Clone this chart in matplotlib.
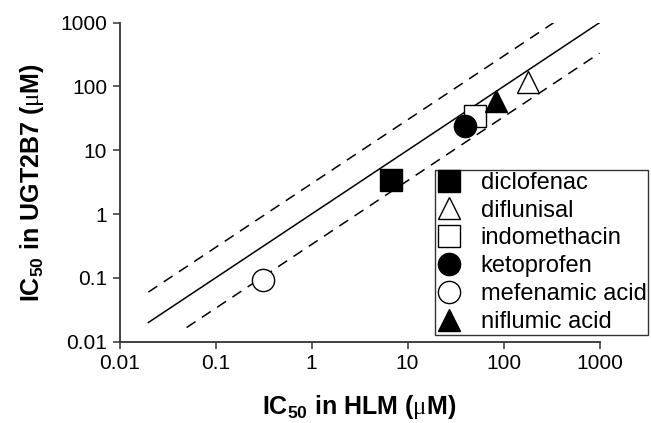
import numpy as np
import matplotlib
matplotlib.use("Agg")
import matplotlib.pyplot as plt

plt.rcParams['font.family'] = ['Liberation Sans', 'DejaVu Sans']
plt.rcParams['mathtext.fontset'] = 'custom'
plt.rcParams['mathtext.rm'] = 'Liberation Serif'
plt.rcParams['mathtext.sf'] = 'Liberation Sans:bold'

# Data
compounds = ['diclofenac', 'diflunisal', 'indomethacin', 'ketoprofen', 'mefenamic acid', 'niflumic acid']
ic50_hlm = [6.8, 180, 51, 40, 0.31, 84]
ic50_ugt2b7 = [3.4, 117, 34, 24, 0.093, 60]
markers = ['s', '^', 's', 'o', 'o', '^']
fills = ['black', 'white', 'white', 'black', 'white', 'black']

# Reference lines: unity and 3-fold
unity_x = [0.02, 1000]
upper_x = [0.02, 1000 / 3]
lower_x = [0.05, 1000]
fold = 3

fig = plt.figure(figsize=(6.51, 4.23), dpi=100)
ax = fig.add_axes([119.5 / 651, 1 - 341.7 / 423, 480 / 651, 319 / 423])

ax.plot(unity_x, unity_x, color='black', lw=1.1, zorder=1)
ax.plot(upper_x, [v * fold for v in upper_x], color='black', lw=1.1, ls=(0, (7, 5)), zorder=1)
ax.plot(lower_x, [v / fold for v in lower_x], color='black', lw=1.1, ls=(0, (7, 5)), zorder=1)

for name, x, y, m, f in zip(compounds, ic50_hlm, ic50_ugt2b7, markers, fills):
    ax.plot([x], [y], marker=m, markersize=16, markerfacecolor=f, markeredgecolor='black',
            markeredgewidth=1.0, ls='none', label=name, zorder=3)

ax.set_xscale('log')
ax.set_yscale('log')
ax.set_xlim(0.01, 1000)
ax.set_ylim(0.01, 1000)
ax.set_xticks([0.01, 0.1, 1, 10, 100, 1000])
ax.set_xticklabels(['0.01', '0.1', '1', '10', '100', '1000'])
ax.set_yticks([0.01, 0.1, 1, 10, 100, 1000])
ax.set_yticklabels(['0.01', '0.1', '1', '10', '100', '1000'])
ax.minorticks_off()
ax.tick_params(axis='both', which='major', direction='out', length=5, width=1.1,
               labelsize=15, color='#333333', pad=4)
for s in ['top', 'right']:
    ax.spines[s].set_visible(False)
for s in ['left', 'bottom']:
    ax.spines[s].set_linewidth(1.3)
    ax.spines[s].set_color('#333333')

ax.set_xlabel(r'IC$_{\mathsf{50}}$ in HLM ($\mathrm{\mu}$M)', fontsize=18, fontweight='bold', labelpad=14)
ax.set_ylabel(r'IC$_{\mathsf{50}}$ in UGT2B7 ($\mathrm{\mu}$M)', fontsize=18, fontweight='bold', labelpad=10)

leg = ax.legend(loc='upper left', bbox_to_anchor=(435 / 651, 1 - 170 / 423),
                bbox_transform=fig.transFigure, frameon=True, fancybox=False,
                fontsize=17, handlelength=1.0, handletextpad=0.85, labelspacing=0.245,
                borderpad=0.08, borderaxespad=0, numpoints=1)
leg.get_frame().set_edgecolor('black')
leg.get_frame().set_linewidth(1.0)

fig.savefig('out.png', dpi=100)
